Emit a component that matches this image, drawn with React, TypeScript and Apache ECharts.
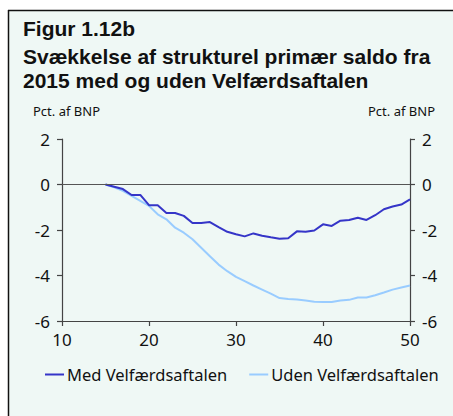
import React, { useEffect, useRef } from "react";
import * as echarts from "echarts";

const years = [15,16,17,18,19,20,21,22,23,24,25,26,27,28,29,30,31,32,33,34,35,36,37,38,39,40,41,42,43,44,45,46,47,48,49,50];
const medValues = [0,-0.1,-0.2,-0.46,-0.46,-0.91,-0.91,-1.25,-1.25,-1.38,-1.69,-1.69,-1.65,-1.87,-2.08,-2.19,-2.28,-2.15,-2.25,-2.32,-2.38,-2.36,-2.06,-2.08,-2.02,-1.75,-1.82,-1.59,-1.56,-1.46,-1.56,-1.35,-1.09,-0.97,-0.88,-0.65];
const udenValues = [0,-0.12,-0.28,-0.5,-0.72,-0.94,-1.31,-1.53,-1.9,-2.12,-2.41,-2.78,-3.15,-3.52,-3.81,-4.06,-4.25,-4.44,-4.62,-4.8,-4.99,-5.03,-5.06,-5.1,-5.15,-5.16,-5.16,-5.1,-5.07,-4.97,-4.97,-4.87,-4.75,-4.62,-4.53,-4.44];
const seriesNames = ["Med Velfærdsaftalen", "Uden Velfærdsaftalen"];
const figureLabel = "Figur 1.12b";
const titleLines = ["Svækkelse af strukturel primær saldo fra", "2015 med og uden Velfærdsaftalen"];
const unitLabel = "Pct. af BNP";

const FONT = "'Noto Sans', sans-serif";
const TITLE_FONT = "'Liberation Sans', Arial, sans-serif";

export default function App() {
  const ref = useRef<HTMLDivElement>(null);
  useEffect(() => {
    if (!ref.current) return;
    const chart = echarts.init(ref.current, null, { renderer: "svg" });
    const axisLineStyle = { color: "#444", width: 1.2 };
    const yAxisCommon = {
      type: "value" as const,
      min: -6,
      max: 2,
      interval: 2,
      splitLine: { show: false },
      axisLine: { show: true, lineStyle: axisLineStyle },
      axisTick: { show: true, inside: false, length: 5, lineStyle: axisLineStyle },
      axisLabel: { color: "#111", fontSize: 17, fontFamily: FONT, margin: 12 },
    };
    const titleStyle = { fontSize: 21, fontWeight: "bold", fontFamily: TITLE_FONT, fill: "#111", verticalAlign: "middle" };
    chart.setOption({
      animation: false,
      backgroundColor: "#ffffff",
      textStyle: { fontFamily: FONT },
      graphic: [
        { type: "rect", shape: { x: 8, y: 10, width: 445, height: 406 }, style: { fill: "#eff8f5" }, silent: true, z: -10 },
        { type: "line", shape: { x1: 8, y1: 10.5, x2: 453, y2: 10.5 }, style: { stroke: "#111", lineWidth: 1.5 } },
        { type: "line", shape: { x1: 8.5, y1: 10, x2: 8.5, y2: 416 }, style: { stroke: "#111", lineWidth: 1.5 } },
        { type: "text", x: 23, y: 28, style: { text: figureLabel, ...titleStyle } },
        { type: "text", x: 23, y: 56.5, style: { text: titleLines[0], ...titleStyle } },
        { type: "text", x: 23, y: 80.5, style: { text: titleLines[1], ...titleStyle } },
        { type: "text", left: 33, top: 104, style: { text: unitLabel, fontSize: 13, fontFamily: FONT, fill: "#111" } },
        { type: "text", right: 18, top: 104, style: { text: unitLabel, fontSize: 13, fontFamily: FONT, fill: "#111" } },
      ],
      grid: { left: 62, right: 43, top: 139, bottom: 95, containLabel: false },
      legend: {
        data: seriesNames,
        left: 40,
        top: 361,
        icon: "rect",
        itemWidth: 19,
        itemHeight: 2,
        itemGap: 22,
        textStyle: { fontSize: 16.5, fontFamily: FONT, color: "#111", padding: [0, 0, 0, -2] },
      },
      xAxis: {
        type: "value",
        min: 10,
        max: 50,
        interval: 10,
        splitLine: { show: false },
        axisLine: { show: true, onZero: false, lineStyle: axisLineStyle },
        axisTick: { show: true, length: 5, lineStyle: axisLineStyle },
        axisLabel: { color: "#111", fontSize: 17, fontFamily: FONT, margin: 10 },
      },
      yAxis: [
        { ...yAxisCommon, position: "left" },
        { ...yAxisCommon, position: "right" },
      ],
      series: [
        {
          name: seriesNames[0],
          type: "line",
          data: years.map((y, i) => [y, medValues[i]]),
          showSymbol: false,
          lineStyle: { color: "#3535c8", width: 2 },
          itemStyle: { color: "#3535c8" },
          z: 3,
          markLine: {
            silent: true,
            symbol: "none",
            label: { show: false },
            lineStyle: { color: "#555", width: 1.2, type: "solid" },
            data: [{ yAxis: 0 }],
          },
        },
        {
          name: seriesNames[1],
          type: "line",
          data: years.map((y, i) => [y, udenValues[i]]),
          showSymbol: false,
          lineStyle: { color: "#99ccff", width: 2 },
          itemStyle: { color: "#99ccff" },
          z: 2,
        },
      ],
    });
    return () => chart.dispose();
  }, []);
  return <div ref={ref} style={{ position: "absolute", left: 0, top: 0, width: 453, height: 416 }} />;
}
